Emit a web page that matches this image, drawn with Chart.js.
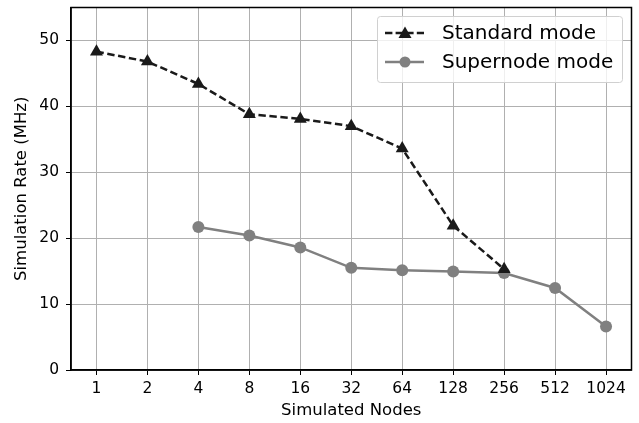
<!DOCTYPE html>
<html><head><meta charset="utf-8">
<script src="https://cdn.jsdelivr.net/npm/chart.js@4/dist/chart.umd.min.js"></script>
<style>html,body{margin:0;padding:0;background:#fff}#wrap{width:639px;height:423px}</style>
</head><body><div id="wrap"><canvas id="c" width="639" height="423"></canvas></div>
<script>
const categories = ['1','2','4','8','16','32','64','128','256','512','1024'];
const standardMode = [48.3, 46.8, 43.4, 38.8, 38.1, 37.0, 33.6, 21.9, 15.3, null, null];
const supernodeMode = [null, null, 21.7, 20.4, 18.6, 15.5, 15.15, 14.95, 14.7, 12.45, 6.6];
const yTicks = [0, 10, 20, 30, 40, 50];

const FONT = 'DejaVu Sans';

const frame = {
  id: 'frame',
  afterDraw(chart) {
    const {ctx, chartArea: a} = chart;
    ctx.save();
    ctx.strokeStyle = '#000';
    ctx.lineWidth = 1.5;
    ctx.strokeRect(a.left, a.top, a.right - a.left, a.bottom - a.top);
    // legend
    const x0 = 377, y0 = 16, w = 245, h = 66;
    ctx.fillStyle = 'rgba(255,255,255,0.8)';
    ctx.strokeStyle = '#d0d0d0';
    ctx.lineWidth = 1;
    ctx.beginPath();
    if (ctx.roundRect) ctx.roundRect(x0 + 0.5, y0 + 0.5, w, h, 3); else ctx.rect(x0 + 0.5, y0 + 0.5, w, h);
    ctx.fill(); ctx.stroke();
    const items = [
      {label: chart.data.datasets[0].label, color: '#1a1a1a', dash: [7.4, 3.2], marker: 'tri', y: 33},
      {label: chart.data.datasets[1].label, color: '#808080', dash: [], marker: 'circ', y: 62}
    ];
    items.forEach(it => {
      ctx.strokeStyle = it.color; ctx.fillStyle = it.color; ctx.lineWidth = 2.5;
      ctx.setLineDash(it.dash);
      ctx.beginPath(); ctx.moveTo(385, it.y); ctx.lineTo(424, it.y); ctx.stroke();
      ctx.setLineDash([]);
      ctx.beginPath();
      if (it.marker === 'tri') {
        ctx.moveTo(405, it.y - 6.5); ctx.lineTo(411.5, it.y + 5); ctx.lineTo(398.5, it.y + 5); ctx.closePath();
      } else {
        ctx.arc(405, it.y, 5.5, 0, Math.PI * 2);
      }
      ctx.fill();
      ctx.fillStyle = '#000';
      ctx.font = '20px "' + FONT + '"';
      ctx.textBaseline = 'middle';
      ctx.textAlign = 'left';
      ctx.fillText(it.label, 442, it.y + 1);
    });
    ctx.restore();
  }
};

new Chart(document.getElementById('c'), {
  type: 'line',
  data: {
    labels: categories,
    datasets: [
      {label: 'Standard mode', data: standardMode, borderColor: '#1a1a1a', backgroundColor: '#1a1a1a',
       borderWidth: 2.5, borderDash: [7.4, 3.6], pointStyle: 'triangle', pointRadius: 7.5, pointBorderWidth: 0,
       spanGaps: false, tension: 0},
      {label: 'Supernode mode', data: supernodeMode, borderColor: '#808080', backgroundColor: '#808080',
       borderWidth: 2.5, pointStyle: 'circle', pointRadius: 6, pointBorderWidth: 0, tension: 0}
    ]
  },
  options: {
    responsive: false, animation: false, devicePixelRatio: 1,
    layout: {padding: {top: 6, right: 7, left: 0, bottom: 0}},
    plugins: {legend: {display: false}, tooltip: {enabled: false}},
    scales: {
      x: {
        type: 'category', offset: true,
        grid: {color: '#b0b0b0', lineWidth: 1, tickLength: 5, tickColor: '#000', offset: false},
        border: {color: '#000', width: 1.5},
        ticks: {color: '#000', font: {family: FONT, size: 15.5}, padding: 5, maxRotation: 0, autoSkip: false},
        title: {display: true, text: 'Simulated Nodes', color: '#000', font: {family: FONT, size: 16.5}, padding: {top: 0, bottom: 2}},
        afterFit(s) { s.height = 53; s.paddingLeft = 0; s.paddingRight = 0; }
      },
      y: {
        min: 0, max: 55,
        afterBuildTicks(s) { s.ticks = yTicks.map(v => ({value: v})); },
        grid: {color: '#b0b0b0', lineWidth: 1, tickLength: 5, tickColor: '#000'},
        border: {color: '#000', width: 1.5},
        ticks: {color: '#000', font: {family: FONT, size: 15.5}, padding: 7},
        title: {display: true, text: 'Simulation Rate (MHz)', color: '#000', font: {family: FONT, size: 16.5}, padding: {top: 12, bottom: 0}},
        afterFit(s) { s.width = 71; s.paddingTop = 0; s.paddingBottom = 0; }
      }
    }
  },
  plugins: [frame]
});
</script></body></html>
